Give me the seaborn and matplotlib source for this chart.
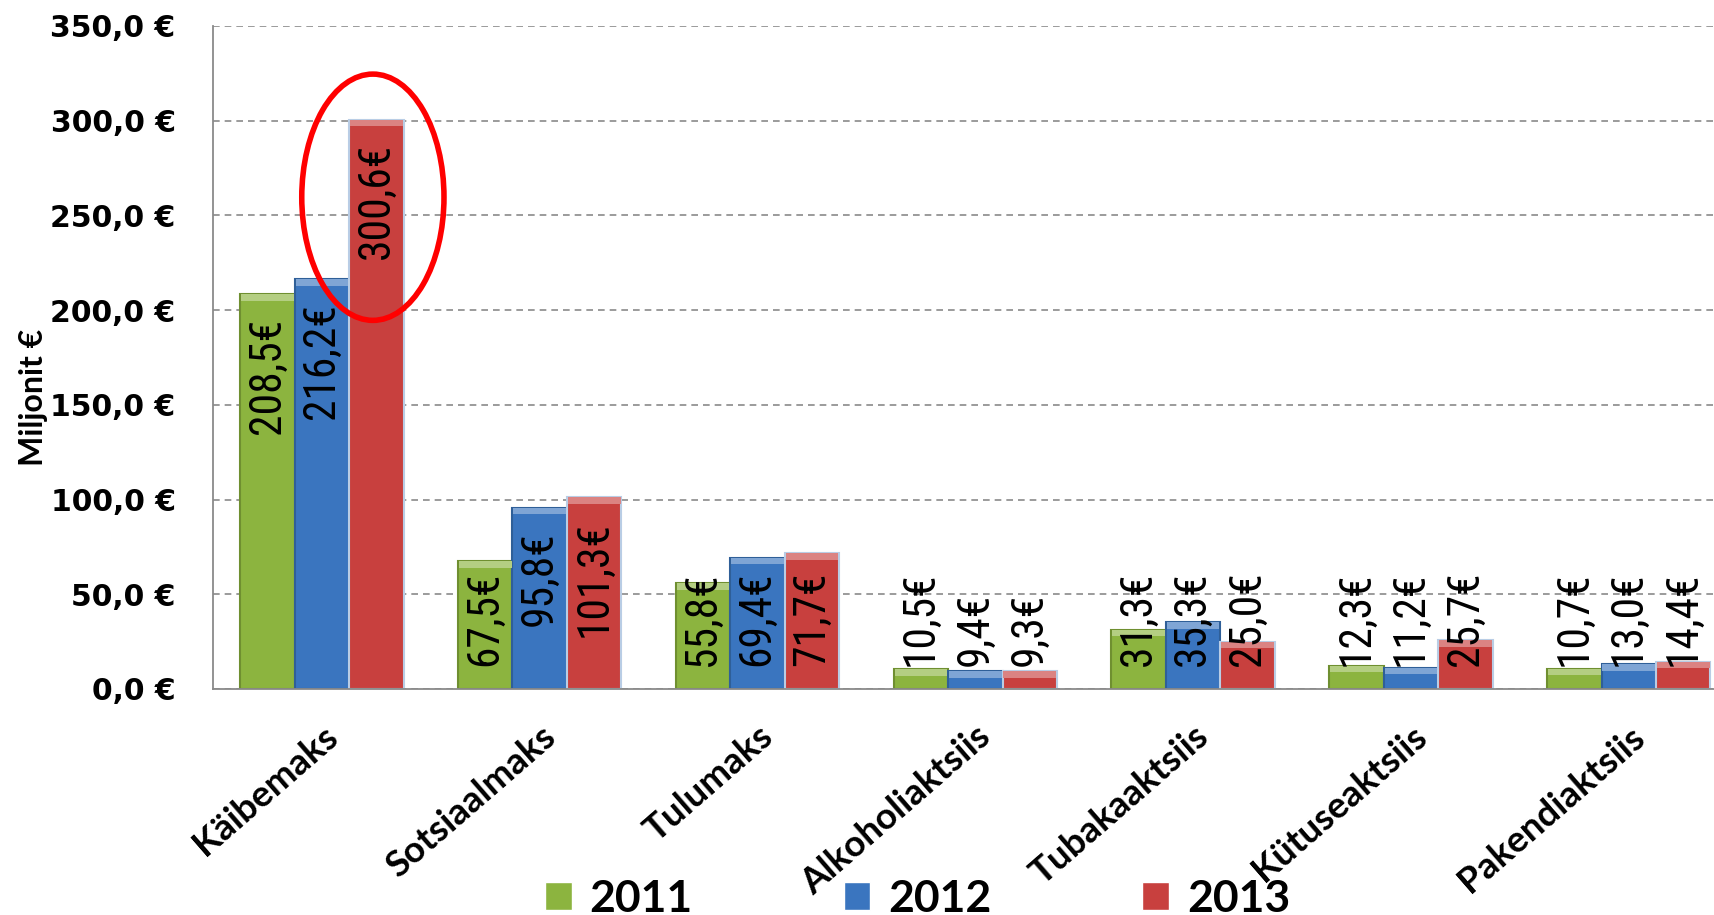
import pandas as pd
import matplotlib.pyplot as plt
from matplotlib import font_manager as fm
from matplotlib.patches import Ellipse, Rectangle
from matplotlib.colors import to_rgb
from matplotlib.ticker import FuncFormatter, FixedLocator
import seaborn as sns

# Tax revenue by type, million €
categories = ['Käibemaks', 'Sotsiaalmaks', 'Tulumaks', 'Alkoholiaktsiis',
              'Tubakaaktsiis', 'Kütuseaktsiis', 'Pakendiaktsiis']
years = ['2011', '2012', '2013']
values_2011 = [208.5, 67.5, 55.8, 10.5, 31.3, 12.3, 10.7]
values_2012 = [216.2, 95.8, 69.4, 9.4, 35.3, 11.2, 13.0]
values_2013 = [300.6, 101.3, 71.7, 9.3, 25.0, 25.7, 14.4]

colors = ['#8CB43F', '#3A75BF', '#C8403E']
edges = ['#6F8F30', '#2F5F98', '#B9CDE5']

df = pd.DataFrame({
    'Maks': categories * 3,
    'Aasta': [y for y in years for _ in categories],
    'Summa': values_2011 + values_2012 + values_2013,
})


def narrow_font():
    # look for a condensed sans for the value labels (Calibri-like look)
    prefs = ['Liberation Sans Narrow', 'Roboto Condensed', 'Open Sans Condensed',
             'Noto Sans Condensed', 'DejaVu Sans']
    for name in prefs:
        for f in fm.fontManager.ttflist:
            if f.style != 'normal' or f.weight not in (400, 'normal', 'regular'):
                continue
            is_narrow = ('Narrow' in f.name or 'Condensed' in f.name
                         or f.stretch in ('condensed', 'semi-condensed'))
            if f.name == name and is_narrow:
                return fm.FontProperties(fname=f.fname)
    return fm.FontProperties(family=['Roboto', 'DejaVu Sans'])


def lighter(c, amt):
    r, g, b = to_rgb(c)
    return (r + (1 - r) * amt, g + (1 - g) * amt, b + (1 - b) * amt)


sns.set_style('white')
plt.rcParams['font.family'] = ['DejaVu Sans']
for k in ['text.color', 'axes.labelcolor', 'xtick.color', 'ytick.color']:
    plt.rcParams[k] = 'black'

fig = plt.figure(figsize=(17.15, 9.15), dpi=100)
ax = fig.add_axes([0.1242, 0.247, 0.889, 0.7246])

sns.barplot(data=df, x='Maks', y='Summa', hue='Aasta', order=categories,
            hue_order=years, palette=colors, width=0.75, saturation=1, ax=ax)

# flat bars with a lighter top bevel strip
for cont, ec, fc in zip(ax.containers, edges, colors):
    for p in cont.patches:
        p.set_edgecolor(ec)
        p.set_linewidth(1.5)
        h = min(3.5, p.get_height())
        ax.add_patch(Rectangle((p.get_x() + 0.004, p.get_height() - h),
                               p.get_width() - 0.008, h, facecolor=lighter(fc, 0.35),
                               edgecolor='none', zorder=p.get_zorder() + 0.1))

ax.set_ylim(0, 350)
ax.set_xlim(-0.5, len(categories) - 0.5)
ax.yaxis.set_major_locator(FixedLocator(range(0, 351, 50)))
ax.yaxis.set_major_formatter(FuncFormatter(lambda v, _: f'{v:.1f} €'.replace('.', ',')))
ax.grid(axis='y', linestyle=(0, (4, 3)), color='#8A8A8A', linewidth=1.2)
ax.set_axisbelow(True)

for s in ['top', 'right']:
    ax.spines[s].set_visible(False)
for s in ['left', 'bottom']:
    ax.spines[s].set_color('#8A8A8A')
    ax.spines[s].set_linewidth(1.3)

ax.tick_params(axis='y', length=11, width=1.3, color='#8A8A8A', pad=16,
               labelsize=21.5)
for t in ax.get_yticklabels():
    t.set_fontweight('bold')

ax.set_xticks(range(len(categories)))
ax.set_xticks([i + 0.5 for i in range(len(categories) - 1)], minor=True)
ax.tick_params(axis='x', which='major', length=0, pad=22)
ax.tick_params(axis='x', which='minor', length=11, width=1.3, color='#8A8A8A')
ax.set_xticklabels(categories, rotation=41, ha='right', va='top',
                   rotation_mode='anchor', fontsize=26.5, fontweight='bold',
                   family=['Lato', 'DejaVu Sans'])

ax.set_xlabel('')
ax.set_ylabel('Miljonit €', fontsize=23, fontweight='bold',
              family=['Lato', 'DejaVu Sans'])
ax.yaxis.set_label_coords(-0.108, 0.44)

# value labels: size chosen so "208,5€" is about 116 px long
fp = narrow_font()
fp.set_size(30)
fig.canvas.draw()
renderer = fig.canvas.get_renderer()
probe = ax.text(0, 0, '208,5€', fontproperties=fp)
w = probe.get_window_extent(renderer).width
probe.remove()
fp.set_size(30 * 116 / w)

inv = ax.transData.inverted()
for cont in ax.containers:
    for p in cont.patches:
        v = p.get_height()
        txt = f'{v:.1f}€'.replace('.', ',')
        x = p.get_x() + p.get_width() / 2
        t = ax.text(x, v - 12.5, txt, rotation=90, ha='center', va='top',
                    fontproperties=fp, color='black', zorder=4)
        bb = t.get_window_extent(renderer)
        y_bottom = inv.transform((0, bb.y0))[1]
        if y_bottom < 12:
            t.set_y(12)
            t.set_va('bottom')

# highlight the 2013 Käibemaks bar
top = ax.containers[2].patches[0]
cx = top.get_x() + top.get_width() / 2 - 0.016
ax.add_patch(Ellipse((cx, top.get_height() - 41), 0.653, 130, fill=False,
                     edgecolor='#FF0000', linewidth=4, zorder=5, clip_on=False))

handles, labels = ax.get_legend_handles_labels()
if ax.get_legend() is not None:
    ax.get_legend().remove()
fig.legend(handles, labels, loc='center', bbox_to_anchor=(0.535, 0.0175),
           ncol=3, frameon=False, handlelength=0.6, handleheight=0.6,
           handletextpad=0.4, columnspacing=3.4,
           prop={'family': ['Lato', 'DejaVu Sans'], 'weight': 'bold', 'size': 32})

fig.savefig('out.png', dpi=100)
